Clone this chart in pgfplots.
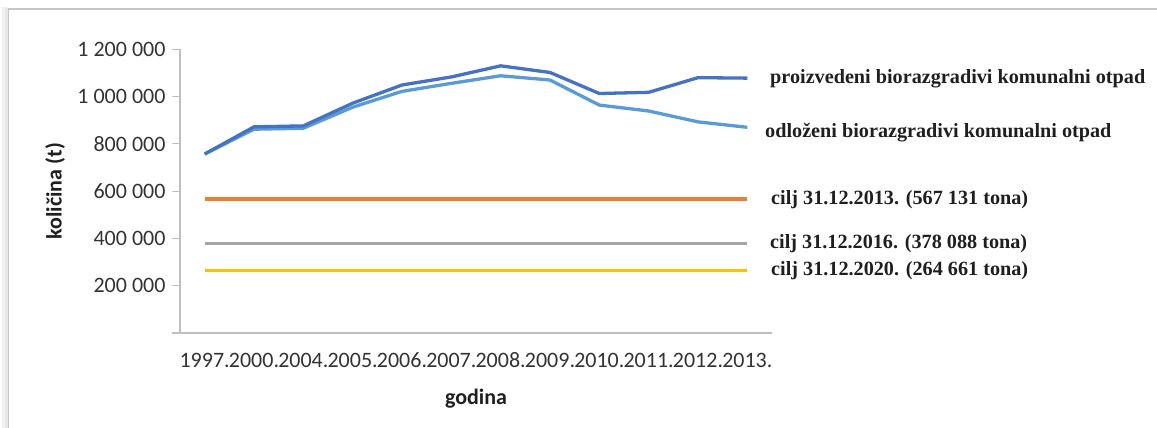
\documentclass[border=0pt]{standalone}
\usepackage{fontspec}
\setmainfont{Carlito}
\newfontfamily\lserif{Liberation Serif}
\usepackage{pgfplots}
\pgfplotsset{compat=1.18}
\definecolor{cprod}{HTML}{4472C4}
\definecolor{codl}{HTML}{5B9BD5}
\definecolor{corange}{HTML}{ED7D31}
\definecolor{cgray}{HTML}{A5A5A5}
\definecolor{cgold}{HTML}{FFC000}
\definecolor{axisgray}{HTML}{BFBFBF}
\begin{document}
\begin{tikzpicture}[x=1pt,y=1pt]
\path[use as bounding box] (0,0) rectangle (1157,428);
\fill[gray!10] (2,0) rectangle (8,421);
\fill[gray!18] (5,0) rectangle (8,420);
\draw[gray!45, line width=1.2pt] (8.5,0) -- (8.5,419) -- (1157,419);
\begin{axis}[
  at={(180pt,95pt)}, anchor=south west,
  scale only axis, width=592pt, height=283.7pt,
  xmin=-0.5, xmax=11.5, ymin=0, ymax=1200000,
  clip=false,
  axis x line*=bottom, axis y line*=left,
  axis line style={draw=axisgray, line width=1.2pt, -},
  tick align=outside, major tick length=8pt,
  xtick={0,1,...,11},
  xticklabels={1997.,2000.,2004.,2005.,2006.,2007.,2008.,2009.,2010.,2011.,2012.,2013.},
  x tick style={draw=none},
  y tick style={draw=axisgray, line width=1.2pt},
  ytick={0,200000,400000,600000,800000,1000000,1200000},
  yticklabels={,200 000,400 000,600 000,800 000,1 000 000,1 200 000},
  scaled y ticks=false,
  tick label style={font=\fontsize{22}{26}\selectfont, text=black!80},
  yticklabel style={xshift=-3pt},
  xticklabel style={anchor=base, inner sep=0pt, yshift=-27pt},
  xlabel={godina},
  ylabel={količina (t)},
  label style={font=\bfseries\fontsize{22}{26}\selectfont, text=black!88},
  xlabel style={at={(axis description cs:0.5,-0.232)}, anchor=center},
  ylabel style={at={(axis description cs:-0.211,0.5)}, anchor=center},
]
\addplot[codl, line width=3.3pt, line join=round] coordinates {
(0,757000) (1,862000) (2,866000) (3,955000) (4,1022000) (5,1056000)
(6,1088000) (7,1070000) (8,964000) (9,939000) (10,893000) (11,870000)};
\addplot[cprod, line width=3.3pt, line join=round] coordinates {
(0,757000) (1,872000) (2,876000) (3,972000) (4,1049000) (5,1083000)
(6,1130000) (7,1102000) (8,1013000) (9,1018000) (10,1080000) (11,1078000)};
\addplot[corange, line width=3.3pt] coordinates {(0,567131) (11,567131)};
\addplot[cgray, line width=3.3pt] coordinates {(0,378088) (11,378088)};
\addplot[cgold, line width=3.3pt] coordinates {(0,264661) (11,264661)};
\end{axis}
\begin{scope}[every node/.style={anchor=base west, inner sep=0pt, font=\lserif\bfseries\fontsize{20.2}{24}\selectfont, text=black!88}]
\node at (770,344.7) {proizvedeni biorazgradivi komunalni otpad};
\node at (765,290.7) {odloženi biorazgradivi komunalni otpad};
\node at (771,223) {cilj 31.12.2013. (567 131 tona)};
\node at (770,179.3) {cilj 31.12.2016. (378 088 tona)};
\node at (771,152) {cilj 31.12.2020. (264 661 tona)};
\end{scope}
\end{tikzpicture}
\end{document}
